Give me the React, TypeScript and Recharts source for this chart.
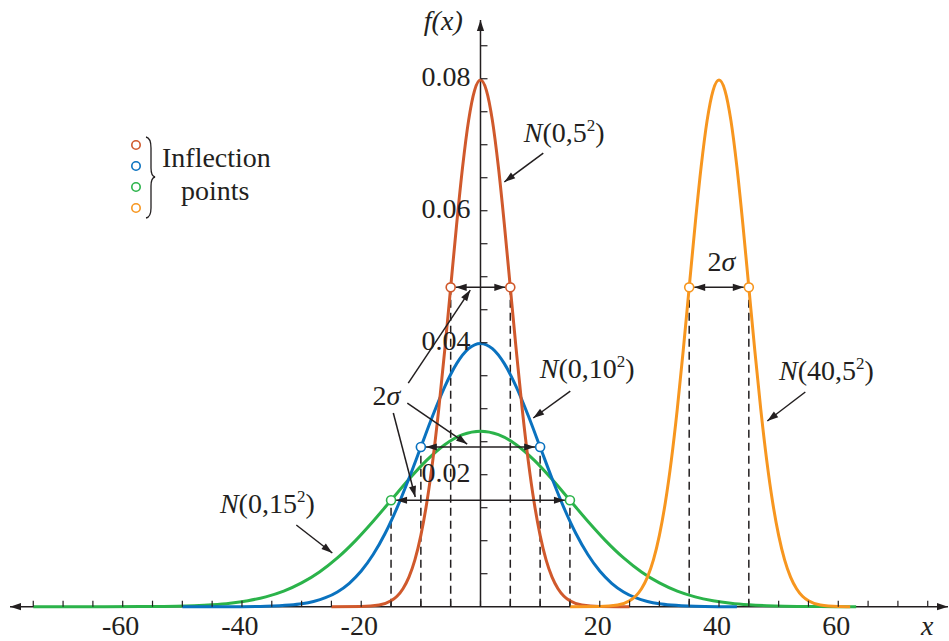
import React from 'react';
import { LineChart, Line, XAxis, YAxis, ReferenceLine, ReferenceDot, Legend } from 'recharts';

const INK = '#231f20';
const FONT = '"Liberation Serif", "Times New Roman", serif';

const RED = '#d0592c';
const BLUE = '#0a72bf';
const GREEN = '#2bb34a';
const ORANGE = '#f7961f';

// curve samples
const redX = [-25, -20, -17, -15, -14, -13, -12, -11, -10, -9, -8, -7, -6, -5, -4, -3, -2, -1, 0, 1, 2, 3, 4, 5, 6, 7, 8, 9, 10, 11, 12, 13, 14, 15, 17, 20, 25];
const redY = [0, 0.00003, 0.00025, 0.00089, 0.00158, 0.00272, 0.00448, 0.00709, 0.0108, 0.01579, 0.02218, 0.02995, 0.03884, 0.04839, 0.05794, 0.06664, 0.07365, 0.07821, 0.07979, 0.07821, 0.07365, 0.06664, 0.05794, 0.04839, 0.03884, 0.02995, 0.02218, 0.01579, 0.0108, 0.00709, 0.00448, 0.00272, 0.00158, 0.00089, 0.00025, 0.00003, 0];

const blueX = [-50, -44, -40, -36, -32, -30, -28, -26, -24, -22, -20, -18, -16, -14, -12, -10, -8, -6, -4, -2, 0, 2, 4, 6, 8, 10, 12, 14, 16, 18, 20, 22, 24, 26, 28, 30, 32, 36, 40, 43];
const blueY = [0, 0, 0.00001, 0.00006, 0.00024, 0.00044, 0.00079, 0.00136, 0.00224, 0.00355, 0.0054, 0.0079, 0.01109, 0.01497, 0.01942, 0.0242, 0.02897, 0.03332, 0.03683, 0.0391, 0.03989, 0.0391, 0.03683, 0.03332, 0.02897, 0.0242, 0.01942, 0.01497, 0.01109, 0.0079, 0.0054, 0.00355, 0.00224, 0.00136, 0.00079, 0.00044, 0.00024, 0.00006, 0.00001, 0];

const greenX = [-75, -69, -63, -57, -51, -48, -45, -42, -39, -36, -33, -30, -27, -24, -21, -18, -15, -12, -9, -6, -3, 0, 3, 6, 9, 12, 15, 18, 21, 24, 27, 30, 33, 36, 39, 42, 45, 48, 51, 57, 63];
const greenY = [0, 0, 0, 0.00002, 0.00008, 0.00016, 0.0003, 0.00053, 0.00091, 0.00149, 0.00236, 0.0036, 0.00526, 0.00739, 0.00998, 0.01295, 0.01613, 0.01931, 0.02221, 0.02455, 0.02607, 0.0266, 0.02607, 0.02455, 0.02221, 0.01931, 0.01613, 0.01295, 0.00998, 0.00739, 0.00526, 0.0036, 0.00236, 0.00149, 0.00091, 0.00053, 0.0003, 0.00016, 0.00008, 0.00002, 0];

const orangeX = [15, 20, 23, 25, 26, 27, 28, 29, 30, 31, 32, 33, 34, 35, 36, 37, 38, 39, 40, 41, 42, 43, 44, 45, 46, 47, 48, 49, 50, 51, 52, 53, 54, 55, 57, 60, 62];
const orangeY = [0, 0.00003, 0.00025, 0.00089, 0.00158, 0.00272, 0.00448, 0.00709, 0.0108, 0.01579, 0.02218, 0.02995, 0.03884, 0.04839, 0.05794, 0.06664, 0.07365, 0.07821, 0.07979, 0.07821, 0.07365, 0.06664, 0.05794, 0.04839, 0.03884, 0.02995, 0.02218, 0.01579, 0.0108, 0.00709, 0.00448, 0.00272, 0.00158, 0.00089, 0.00025, 0.00003, 0];

// inflection points (mu - sigma, mu + sigma, height)
const inflLeft = [-5, -10, -15, 35];
const inflRight = [5, 10, 15, 45];
const inflHeight = [0.04839, 0.0242, 0.01613, 0.04839];
const inflColors = [RED, BLUE, GREEN, ORANGE];

// axis ticks
const xTicks = [-75, -70, -65, -60, -55, -50, -45, -40, -35, -30, -25, -20, -15, -10, -5, 0, 5, 10, 15, 20, 25, 30, 35, 40, 45, 50, 55, 60, 65, 70, 75];
const xTickLabels = [-60, -40, -20, 20, 40, 60];
const yTicks = [0.005, 0.01, 0.015, 0.02, 0.025, 0.03, 0.035, 0.04, 0.045, 0.05, 0.055, 0.06, 0.065, 0.07, 0.075, 0.08, 0.085];
const yTickLabels = [0.02, 0.04, 0.06, 0.08];

const X_MIN = -78.9;
const X_MAX = 78.4;
const Y_MAX = 0.0889;

// annotation arrows, in data units: [x1, y1, x2, y2]
const pointers = [
  [10.53, 0.06874, 3.99, 0.06435],
  [54.47, 0.03253, 48.1, 0.02814],
  [15.06, 0.03268, 8.85, 0.02859],
  [-30.89, 0.01238, -24.85, 0.00814],
  [-12.11, 0.03389, -1.71, 0.04798],
  [-12.27, 0.03086, -2.23, 0.02465],
  [-14.62, 0.02935, -10.94, 0.01662],
];

const curveLabels = [
  { x: 14.05, y: 0.07041, mu: '0', sd: '5' },
  { x: 58.02, y: 0.03435, mu: '40', sd: '5' },
  { x: 17.9, y: 0.03465, mu: '0', sd: '10' },
  { x: -35.75, y: 0.0142, mu: '0', sd: '15' },
];
const sigmaLabels = [
  { x: -15.77, y: 0.03056 },
  { x: 40.4, y: 0.05086 },
];

const toRows = (xs: number[], ys: number[]) => xs.map((x, i) => ({ x, y: ys[i] }));

const headPoints = (x1: number, y1: number, x2: number, y2: number, len = 11, half = 3.6) => {
  const d = Math.hypot(x2 - x1, y2 - y1) || 1;
  const ux = (x2 - x1) / d;
  const uy = (y2 - y1) / d;
  const bx = x2 - ux * len;
  const by = y2 - uy * len;
  return `${x2},${y2} ${bx - uy * half},${by + ux * half} ${bx + uy * half},${by - ux * half}`;
};

const Arrow = (props: any) => {
  const { x1, y1, x2, y2, both, inset = 0, width = 1.5 } = props;
  const d = Math.hypot(x2 - x1, y2 - y1) || 1;
  const ux = (x2 - x1) / d;
  const uy = (y2 - y1) / d;
  const ax = x1 + ux * inset;
  const ay = y1 + uy * inset;
  const bx = x2 - ux * inset;
  const by = y2 - uy * inset;
  return (
    <g>
      <line x1={ax} y1={ay} x2={bx} y2={by} stroke={INK} strokeWidth={width} />
      <polygon points={headPoints(ax, ay, bx, by)} fill={INK} />
      {both && <polygon points={headPoints(bx, by, ax, ay)} fill={INK} />}
    </g>
  );
};

const XTick = (props: any) => {
  const { x, y, payload } = props;
  const v = payload.value;
  return (
    <g>
      <line x1={x} y1={y} x2={x} y2={y - 6} stroke={INK} strokeWidth={1.2} />
      {xTickLabels.includes(v) && (
        <text x={x - 2} y={y + 28} textAnchor="middle" fontFamily={FONT} fontSize={28} fill={INK}>
          {v}
        </text>
      )}
    </g>
  );
};

const YTick = (props: any) => {
  const { cx, cy, value } = props;
  return (
    <g>
      <line x1={cx} y1={cy} x2={cx + 7} y2={cy} stroke={INK} strokeWidth={1.2} />
      {yTickLabels.includes(value) && (
        <text x={cx - 10} y={cy + 7} textAnchor="end" fontFamily={FONT} fontSize={28} fill={INK}>
          {value.toFixed(2)}
        </text>
      )}
    </g>
  );
};

const CurveLabel = (props: any) => {
  const { cx, cy, mu, sd } = props;
  return (
    <text x={cx} y={cy} textAnchor="middle" fontFamily={FONT} fontSize={28} fill={INK}>
      <tspan fontStyle="italic">N</tspan>
      <tspan>({mu},{sd}</tspan>
      <tspan fontSize={17} dy={-11}>2</tspan>
      <tspan dy={11}>)</tspan>
    </text>
  );
};

const SigmaLabel = (props: any) => (
  <text x={props.cx} y={props.cy} textAnchor="middle" fontFamily={FONT} fontSize={28} fill={INK}>
    2<tspan fontStyle="italic">σ</tspan>
  </text>
);

const LegendBox = () => (
  <svg width={170} height={100} style={{ display: 'block' }}>
    {inflColors.map((c, i) => (
      <circle key={c} cx={11} cy={17 + i * 21} r={4.2} fill="#fff" stroke={c} strokeWidth={1.6} />
    ))}
    <path d="M 21 9 Q 26 10 26 20 L 26 40 Q 26 48 30 49 Q 26 50 26 58 L 26 80 Q 26 89 21 90" fill="none" stroke={INK} strokeWidth={1.3} />
    <text x={37} y={39} fontFamily={FONT} fontSize={28} fill={INK}>Inflection</text>
    <text x={56} y={72} fontFamily={FONT} fontSize={28} fill={INK}>points</text>
  </svg>
);

const App: React.FC = () => {
  return (
    <div style={{ width: 949, height: 641, background: '#fff' }}>
      <style>{'body{margin:0}'}</style>
      <LineChart width={949} height={641} margin={{ top: 20, right: 1, bottom: 4.3, left: 10 }}>
        <XAxis
          dataKey="x"
          type="number"
          domain={[X_MIN, X_MAX]}
          ticks={xTicks}
          interval={0}
          axisLine={false}
          tickLine={false}
          tickSize={0}
          tickMargin={0}
          tick={<XTick />}
          height={30}
        />
        <YAxis type="number" domain={[0, Y_MAX]} hide />

        <ReferenceLine segment={[{ x: X_MIN, y: 0 }, { x: X_MAX, y: 0 }]} shape={(p: any) => <Arrow {...p} both />} />
        <ReferenceLine segment={[{ x: 0, y: 0 }, { x: 0, y: Y_MAX }]} shape={(p: any) => <Arrow {...p} />} />
        {yTicks.map((v) => (
          <ReferenceDot key={v} x={0} y={v} r={0} shape={(p: any) => <YTick {...p} value={v} />} />
        ))}

        {inflLeft.map((x, i) => (
          <ReferenceLine key={`dl${i}`} segment={[{ x, y: 0 }, { x, y: inflHeight[i] }]} stroke={INK} strokeWidth={1.5} strokeDasharray="8 5" />
        ))}
        {inflRight.map((x, i) => (
          <ReferenceLine key={`dr${i}`} segment={[{ x, y: 0 }, { x, y: inflHeight[i] }]} stroke={INK} strokeWidth={1.5} strokeDasharray="8 5" />
        ))}

        <Line data={toRows(greenX, greenY)} dataKey="y" type="monotone" stroke={GREEN} strokeWidth={3} dot={false} isAnimationActive={false} />
        <Line data={toRows(blueX, blueY)} dataKey="y" type="monotone" stroke={BLUE} strokeWidth={3} dot={false} isAnimationActive={false} />
        <Line data={toRows(redX, redY)} dataKey="y" type="monotone" stroke={RED} strokeWidth={3} dot={false} isAnimationActive={false} />
        <Line data={toRows(orangeX, orangeY)} dataKey="y" type="monotone" stroke={ORANGE} strokeWidth={3} dot={false} isAnimationActive={false} />

        {inflLeft.map((x, i) => (
          <ReferenceLine
            key={`span${i}`}
            segment={[{ x, y: inflHeight[i] }, { x: inflRight[i], y: inflHeight[i] }]}
            shape={(p: any) => <Arrow {...p} both inset={5} />}
          />
        ))}
        {pointers.map(([x1, y1, x2, y2], i) => (
          <ReferenceLine key={`ptr${i}`} segment={[{ x: x1, y: y1 }, { x: x2, y: y2 }]} shape={(p: any) => <Arrow {...p} />} />
        ))}

        {inflLeft.map((x, i) => (
          <ReferenceDot key={`il${i}`} x={x} y={inflHeight[i]} r={4.5} fill="#fff" stroke={inflColors[i]} strokeWidth={1.6} />
        ))}
        {inflRight.map((x, i) => (
          <ReferenceDot key={`ir${i}`} x={x} y={inflHeight[i]} r={4.5} fill="#fff" stroke={inflColors[i]} strokeWidth={1.6} />
        ))}

        {curveLabels.map((l, i) => (
          <ReferenceDot key={`cl${i}`} x={l.x} y={l.y} r={0} shape={(p: any) => <CurveLabel {...p} mu={l.mu} sd={l.sd} />} />
        ))}
        {sigmaLabels.map((l, i) => (
          <ReferenceDot key={`sl${i}`} x={l.x} y={l.y} r={0} shape={(p: any) => <SigmaLabel {...p} />} />
        ))}
        <ReferenceDot
          x={-6.24}
          y={0.08738}
          r={0}
          shape={(p: any) => (
            <text x={p.cx} y={p.cy} textAnchor="middle" fontFamily={FONT} fontSize={28} fontStyle="italic" fill={INK}>
              f(x)
            </text>
          )}
        />
        <ReferenceDot
          x={74.9}
          y={-0.00429}
          r={0}
          ifOverflow="visible"
          shape={(p: any) => (
            <text x={p.cx} y={p.cy} textAnchor="middle" fontFamily={FONT} fontSize={28} fontStyle="italic" fill={INK}>
              x
            </text>
          )}
        />

        <Legend
          layout="vertical"
          align="center"
          verticalAlign="middle"
          wrapperStyle={{ top: 128, left: 125, width: 170, height: 100 }}
          content={() => <LegendBox />}
        />
      </LineChart>
    </div>
  );
};

export default App;
